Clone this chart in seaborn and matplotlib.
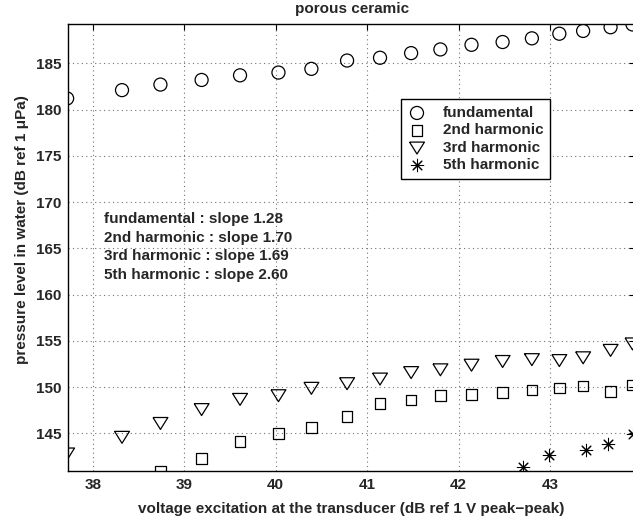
import numpy as np
import pandas as pd
import matplotlib
matplotlib.use("Agg")
import matplotlib.pyplot as plt
import seaborn as sns

# voltage excitation (dB ref 1 V peak-peak)
volt = [37.72, 38.32, 38.74, 39.19, 39.61, 40.03, 40.39, 40.78, 41.14,
        41.48, 41.80, 42.14, 42.48, 42.80, 43.10, 43.36, 43.66, 43.90]
fundamental = [181.2, 182.1, 182.7, 183.2, 183.7, 184.0, 184.4, 185.3, 185.6,
               186.1, 186.5, 187.0, 187.3, 187.7, 188.2, 188.5, 188.9, 189.2]
# 2nd harmonic only visible from the 3rd excitation level on
volt_2nd = volt[2:]
harm_2nd = [140.9, 142.3, 144.1, 145.0, 145.6, 146.8, 148.2, 148.6,
            149.1, 149.2, 149.4, 149.7, 149.9, 150.1, 149.5, 150.2]
harm_3rd = [142.8, 144.6, 146.1, 147.6, 148.7, 149.1, 149.9, 150.4, 150.9,
            151.6, 151.9, 152.4, 152.8, 153.0, 152.9, 153.2, 154.0, 154.7]
volt_5th = [42.70, 42.99, 43.39, 43.63, 43.90]
harm_5th = [141.4, 142.7, 143.2, 143.8, 144.9]

slopes = {"fundamental": 1.28, "2nd harmonic": 1.70,
          "3rd harmonic": 1.69, "5th harmonic": 2.60}

sns.set_style("white")
plt.rcParams["font.family"] = ["Liberation Sans", "DejaVu Sans"]
plt.rcParams["font.weight"] = "bold"
plt.rcParams["font.size"] = 11

fig = plt.figure(figsize=(6.33, 5.22), dpi=100)
ax = fig.add_axes([68.3 / 633, 51 / 522, (635 - 68.3) / 633, 447 / 522])

lw = 0.9
tri = [(-1.0, 0.75), (1.0, 0.75), (0.0, -0.85), (-1.0, 0.75)]

sns.scatterplot(x=volt, y=fundamental, marker="o", s=88, facecolor="none",
                edgecolor="black", linewidth=lw, label="fundamental", ax=ax)
sns.scatterplot(x=volt_2nd, y=harm_2nd, marker="s", s=58, facecolor="none",
                edgecolor="black", linewidth=lw, label="2nd harmonic", ax=ax)
sns.scatterplot(x=volt, y=harm_3rd, marker=tri, s=115, facecolor="none",
                edgecolor="black", linewidth=lw, label="3rd harmonic", ax=ax)
sns.scatterplot(x=volt_5th, y=harm_5th, marker=(8, 2, 0), s=80, color="black",
                linewidth=0.75, label="5th harmonic", ax=ax)

ax.set_xlim(37.733, 43.927)
ax.set_ylim(140.92, 189.25)
ax.set_xticks([38, 39, 40, 41, 42, 43])
ax.set_yticks([145, 150, 155, 160, 165, 170, 175, 180, 185])
ax.grid(True, linestyle=(0, (1, 3)), color="0.45", linewidth=0.8)
ax.tick_params(direction="in", length=4, width=0.8, top=True, right=True,
               labelsize=11, color="black", pad=5)
for lab in ax.get_xticklabels() + ax.get_yticklabels():
    lab.set_fontweight("bold")
for sp in ax.spines.values():
    sp.set_color("black")
    sp.set_linewidth(1.0)

ax.set_title("porous ceramic", fontsize=11, fontweight="bold", pad=8)
ax.set_xlabel("voltage excitation at the transducer (dB ref 1 V peak\u2212peak)",
              fontsize=11, fontweight="bold", labelpad=7)
ax.set_ylabel("pressure level in water (dB ref 1 \u03bcPa)",
              fontsize=11, fontweight="bold")
ax.yaxis.set_label_coords(-0.07, 0.54)

txt = "\n".join(f"{k} : slope {v:.2f}" for k, v in slopes.items())
ax.text(38.12, 168.9, txt, fontsize=11, fontweight="bold", va="top",
        ha="left", linespacing=1.42)

leg = ax.legend(loc="upper left", bbox_to_anchor=(0.587, 0.832),
                fancybox=False, edgecolor="black", framealpha=1,
                handlelength=1.2, handletextpad=1.1, borderpad=0.45,
                labelspacing=0.22, borderaxespad=0,
                prop={"weight": "bold", "size": 11})
leg.get_frame().set_linewidth(1.0)

fig.savefig("out.png", dpi=100)
